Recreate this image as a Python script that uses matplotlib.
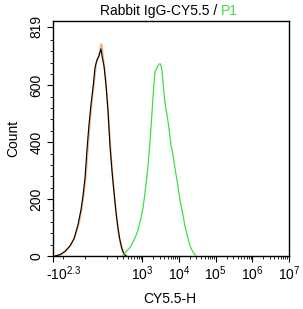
import numpy as np
import matplotlib
matplotlib.use('Agg')
import matplotlib.pyplot as plt
import matplotlib.transforms as mtransforms
from matplotlib.ticker import FixedLocator, FixedFormatter

plt.rcParams['font.family'] = ['Liberation Sans', 'DejaVu Sans']
plt.rcParams['mathtext.default'] = 'regular'

# ---------------- data ----------------
title_main = "Rabbit IgG-CY5.5 / "
title_gate = "P1"
x_label = "CY5.5-H"
y_label = "Count"

# isotype control (black)
black_x = [-176, -126, -88, -60, -41, -25, -14, -7, 0, 6.7, 13.7, 20.9, 28.5, 36.4, 44.9,
           54.3, 59.2, 64.4, 70, 81.8, 94.8, 109, 125, 143, 164, 187, 213, 242, 276, 313, 356]
black_y = [0, 5, 16, 35, 60, 109, 162, 211, 274, 373, 461, 531, 591, 661, 689,
           703, 717, 728, 703, 668, 601, 513, 390, 302, 225, 155, 98, 56, 25, 7, 0]

# blank control (orange)
orange_x = [-165, -118, -82, -55, -37, -21, -10.5, -3.6, 3.3, 10.2, 17.3, 24.6, 32.4, 40.6, 49.5,
            59.2, 64.4, 70, 75.7, 88.1, 101.7, 116.9, 133.8, 153, 175, 199.6, 227, 258.5, 294, 334, 379]
orange_y = [0, 5, 18, 39, 67, 116, 172, 222, 285, 380, 471, 549, 605, 675, 696,
            717, 745, 738, 700, 647, 566, 461, 355, 267, 190, 127, 70, 35, 14, 4, 0]

# stained sample (green)
green_x = [276, 334, 458, 630, 760, 918, 1041, 1180, 1338, 1517, 1667, 1831, 2012, 2211, 2507,
           2843, 3123, 3432, 3771, 4143, 4698, 5327, 6040, 6847, 7764, 8802, 10628, 12832,
           14548, 17565, 19915, 24046, 29033]
green_y = [0, 11, 30, 63, 91, 134, 169, 222, 281, 355, 425, 503, 584, 647, 661,
           675, 675, 654, 591, 538, 496, 450, 390, 355, 309, 267, 197, 144,
           105, 63, 35, 14, 0]

xtick_vals = [-200, 1e3, 1e4, 1e5, 1e6, 1e7]
xtick_labels = ['-10$^{2.3}$', '10$^{3}$', '10$^{4}$', '10$^{5}$', '10$^{6}$', '10$^{7}$']
ytick_vals = [0, 200, 400, 600, 806]
ytick_labels = ['0', '200', '400', '600', '819']

# ---------------- figure ----------------
W = 54.6
def fwd(x):
    return np.arcsinh(np.asarray(x, dtype=float) / W)
def inv(y):
    return W * np.sinh(np.asarray(y, dtype=float))

fig = plt.figure(figsize=(3.03, 3.09), dpi=100)
ax = fig.add_axes([53/303, 1-256/309, (289-53)/303, (256-21)/309])
ax.set_xscale('function', functions=(fwd, inv))

ax.plot(orange_x, orange_y, color='#f4b27a', lw=1.3, zorder=2)
ax.plot(black_x, black_y, color='black', lw=0.8, zorder=3)
ax.plot(green_x, green_y, color='#44dd44', lw=0.9, zorder=3)

ax.set_xlim(-200, 1e7)
ax.set_ylim(0, 826)

# x ticks
ax.xaxis.set_major_locator(FixedLocator(xtick_vals))
ax.xaxis.set_major_formatter(FixedFormatter(xtick_labels))
minor = [-100, 0, 100]
for d in [1e2, 1e3, 1e4, 1e5, 1e6]:
    minor += [m * d for m in range(2, 10)]
ax.xaxis.set_minor_locator(FixedLocator(minor))
ax.yaxis.set_major_locator(FixedLocator(ytick_vals))
ax.yaxis.set_major_formatter(FixedFormatter(ytick_labels))
ax.yaxis.set_minor_locator(FixedLocator(list(range(40, 800, 40))))

ax.tick_params(axis='both', which='major', direction='out', length=4, width=0.8, labelsize=10)
ax.tick_params(axis='both', which='minor', direction='out', length=2.5, width=0.6)
ax.tick_params(axis='x', which='major', pad=2)
ax.tick_params(axis='y', which='major', pad=3)
for lbl in ax.get_yticklabels():
    lbl.set_rotation(90)
    lbl.set_va('center')
first = ax.get_xticklabels()[0]
first.set_transform(first.get_transform() + mtransforms.ScaledTranslation(11/100, 0, fig.dpi_scale_trans))
for s in ax.spines.values():
    s.set_linewidth(1.0)

t1 = fig.text(100/303, 1-15/309, title_main, fontsize=10, ha='left', va='baseline', color='black')
ax.annotate(title_gate, xy=(1, 0), xycoords=t1, fontsize=10, ha='left', va='bottom', color='#44dd44')

fig.text(170/303, 1-303/309, x_label, fontsize=10, ha='center', va='baseline')
fig.text(13/303, 1-138/309, y_label, fontsize=10, ha='center', va='center', rotation=90)

fig.savefig('out.png', dpi=100)
